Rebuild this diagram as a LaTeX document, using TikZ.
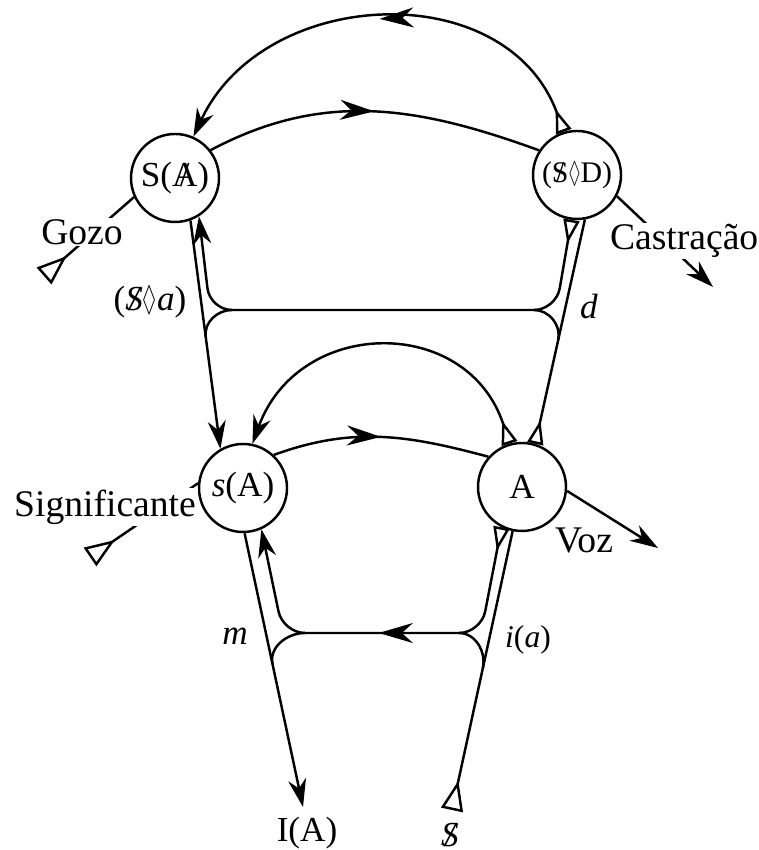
\documentclass[tikz,border=0pt]{standalone}
\usepackage{fontspec}
\usepackage{amssymb}
\setmainfont{Liberation Serif}
\usetikzlibrary{arrows.meta,decorations.markings,calc}

\newcommand{\barred}[1]{\ooalign{#1\cr\hidewidth/\hidewidth\cr}}
\newcommand{\lozg}{\scalebox{0.6}[1]{$\Diamond$}}

\begin{document}
\begin{tikzpicture}[
  line width=0.7pt,
  >={Stealth[length=2.8mm,width=1.8mm,inset=0.9mm]},
  Tl/.tip={Triangle[open,reversed,length=2.4mm,width=1.6mm]},
  BigTl/.tip={Triangle[open,reversed,length=3mm,width=2.2mm]},
  place/.style={circle,draw,minimum size=0.88cm,inner sep=0pt,font=\fontsize{10}{12}\selectfont},
  lbl/.style={font=\fontsize{10.7}{13}\selectfont,fill=white,inner sep=0.5pt},
  small/.style={font=\fontsize{10}{12}\selectfont},
  midarrow/.style={postaction={decorate},decoration={markings,
    mark=at position #1 with {\arrow{Stealth[length=3.4mm,width=2mm,inset=1.1mm]}}}},
  midarrow/.default=0.5
]
\useasboundingbox (0,0) rectangle (7.58,8.50);

% Places
\node[place] (SA) at (1.75,6.72) {S(\barred{A})};
\node[place] (SD) at (5.77,6.75) {\fontsize{8.5}{10}\selectfont(\barred{S}\lozg D)};
\node[place] (sA) at (2.43,3.62) {\textit{s}(A)};
\node[place] (A) at (5.22,3.63) {A};

% Free ends
\coordinate (gozoin) at (0.44,5.74);
\coordinate (castout) at (7.13,5.63);
\coordinate (signin) at (0.90,2.93);
\coordinate (vozout) at (6.58,3.02);
\coordinate (imend) at (3.03,0.43);
\coordinate (sbase) at (4.52,0.40);

% Upper chain and its loop
\draw[midarrow] (SA.38) to[out=28,in=160] (SD.147);
\draw[{Tl}->,midarrow] (SD.107) to[out=110,in=65,looseness=1.15] (SA.66);

% Lower chain and its loop
\draw[midarrow] (sA.47) to[out=20,in=165] (A.138);
\draw[{Tl}->] (A.106) to[out=108,in=70,looseness=1.35] (sA.78);

% Vectors in and out
\draw[{BigTl}-] (gozoin) -- (SA.205);
\draw[->] (SD.-28) -- (castout);
\draw[{BigTl}-] (signin) -- (sA.174);
\draw[->] (A.-5) -- (vozout);

% Left and right lines
\draw[->] (SA.290) -- (sA.120);
\draw[->] (sA.272) -- (imend);
\draw[{Tl}-] (A.73) -- (SD.280);
\draw[{BigTl}-] (sbase) -- (A.258);

% Upper retroversion
\draw[{Tl}->,rounded corners=2.2mm] (SD.263) -- (5.56,5.40) -- (2.10,5.40) -- (SA.302);
\draw (5.34,5.40) to[out=0,in=78] ($(A.73)!0.463!(SD.280)$);
\draw (2.32,5.40) to[out=180,in=98] ($(SA.290)!0.51!(sA.120)$);

% Lower retroversion
\draw[{Tl}->,rounded corners=2.2mm,midarrow=0.51] (A.243) -- (4.81,2.17) -- (2.83,2.17) -- (sA.294);
\draw (4.59,2.17) to[out=0,in=78] ($(sbase)!0.509!(A.258)$);
\draw (3.05,2.17) to[out=180,in=102] ($(sA.272)!0.478!(imend)$);

% Labels
\node[lbl] (gozo) at (0.82,6.18) {Gozo};
\node[lbl,anchor=west] (castr) at (6.07,6.09) {Castração};
\node[lbl] (signif) at (1.05,3.43) {Significante};
\node[lbl,fill=none] (voz) at (5.84,3.10) {Voz};
\node[small] (sgoa) at (1.50,5.48) {(\textit{\barred{S}}\lozg\textit{a})};
\node[small] (dlab) at (5.89,5.43) {\textit{d}};
\node[small] (mlab) at (2.35,2.14) {\textit{m}};
\node[font=\fontsize{9}{11}\selectfont] (ialab) at (5.28,2.10) {\textit{i}(\textit{a})};
\node[small] (IA) at (3.07,0.17) {I(A)};
\node[small] (Sbar) at (4.50,0.15) {\textit{\barred{S}}};

\end{tikzpicture}
\end{document}
